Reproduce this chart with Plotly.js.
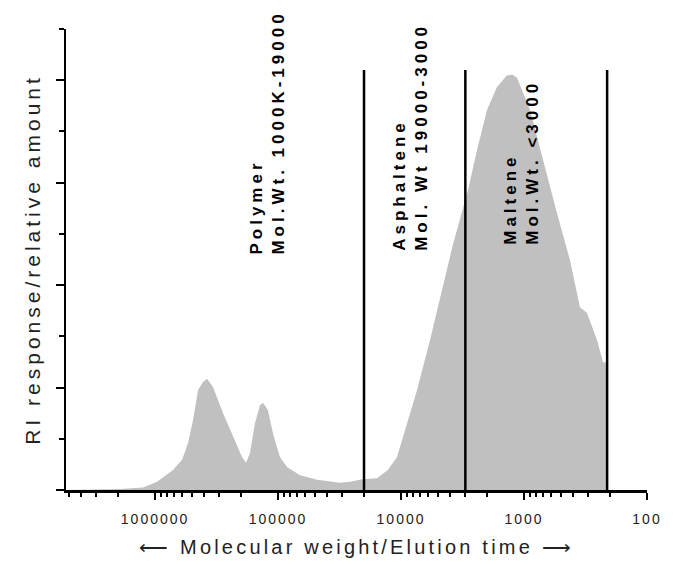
<!DOCTYPE html>
<html>
<head>
<meta charset="utf-8">
<script src="https://cdn.plot.ly/plotly-3.0.1.min.js"></script>
<style>
  body { margin: 0; background: #fff; }
  #chart { width: 675px; height: 566px; }
  .xtick text { letter-spacing: 2px; }
  .g-xtitle text { letter-spacing: 3.2px; }
  .g-ytitle text { letter-spacing: 4px; }
  .annotation-text { letter-spacing: 4px; }
</style>
</head>
<body>
<div id="chart"></div>
<script>
// Molecular weight (x, log scale, reversed) and RI response (y)
const molWeight = [5300000, 1930000, 1250000, 963000, 714000, 603000, 539000, 491000, 447000, 407000,
  378000, 338000, 280000, 232000, 196000, 182000, 169000, 154000, 140000, 132000,
  121000, 110000, 96400, 84500, 66200, 48200, 31300, 26000, 20700, 15700,
  12800, 10800, 8940, 7410, 5810, 4560, 3780, 3130, 2850, 2410,
  2000, 1660, 1380, 1250, 1140, 893, 701, 540, 423, 364,
  351, 308, 255, 228, 211];
const riResponse = [0.0, 0.02, 0.05, 0.16, 0.39, 0.59, 0.92, 1.37, 1.95, 2.11,
  2.17, 2.01, 1.50, 1.04, 0.64, 0.53, 0.72, 1.31, 1.66, 1.70,
  1.56, 1.11, 0.64, 0.45, 0.29, 0.20, 0.14, 0.16, 0.21, 0.23,
  0.39, 0.64, 1.31, 1.95, 2.93, 3.96, 4.80, 5.51, 5.86, 6.64,
  7.42, 7.87, 8.09, 8.11, 8.05, 7.42, 6.45, 5.41, 4.49, 3.77,
  3.57, 3.46, 2.93, 2.50, 2.48];

// Fraction boundaries (molecular weight)
const boundaries = [20000, 3000, 211];
const boundaryTop = 8.2;

// Fraction labels
const fractionNames = ['Polymer', 'Asphaltene', 'Maltene'];
const fractionRanges = ['Mol.Wt. 1000K-19000', 'Mol. Wt 19000-3000', 'Mol.Wt. <3000'];
const labelMW = [121600, 8300, 1047];
const labelY = [4.55, 4.63, 4.75];

const tickVals = [1000000, 100000, 10000, 1000, 100];
const tickText = ['1000000', '100000', '10000', '1000', '100'];

const traces = [{
  type: 'scatter',
  mode: 'lines',
  x: molWeight,
  y: riResponse,
  fill: 'tozeroy',
  fillcolor: '#c0c0c0',
  line: { width: 0, color: '#c0c0c0', shape: 'linear' },
  hoverinfo: 'skip',
  showlegend: false
}];

boundaries.forEach(b => {
  traces.push({
    type: 'scatter',
    mode: 'lines',
    x: [b, b],
    y: [0, boundaryTop],
    line: { color: '#000', width: 2.5 },
    hoverinfo: 'skip',
    showlegend: false
  });
});

const annotations = fractionNames.map((name, i) => ({
  x: Math.log10(labelMW[i]),
  y: labelY[i],
  xref: 'x', yref: 'y',
  text: '<b>' + name + '</b><br><b>' + fractionRanges[i] + '</b>',
  textangle: -90,
  align: 'left',
  xanchor: 'center',
  yanchor: 'bottom',
  showarrow: false,
  font: { family: 'Liberation Sans, Arial, sans-serif', size: 17, color: '#000' }
}));

const layout = {
  width: 675,
  height: 566,
  margin: { l: 66, r: 28, t: 29, b: 76 },
  paper_bgcolor: '#fff',
  plot_bgcolor: '#fff',
  showlegend: false,
  xaxis: {
    type: 'log',
    range: [Math.log10(5300000), 2],
    tickmode: 'array',
    tickvals: tickVals,
    ticktext: tickText,
    ticks: 'outside',
    ticklen: 7,
    tickwidth: 2,
    tickcolor: '#000',
    ticklabelstandoff: 8,
    tickfont: { family: 'Liberation Sans, Arial, sans-serif', size: 14, color: '#222' },
    showline: true,
    linewidth: 2.5,
    linecolor: '#000',
    showgrid: false,
    zeroline: false,
    minor: { tickmode: 'linear', dtick: 'D1', ticks: 'outside', ticklen: 4, tickwidth: 2, tickcolor: '#000', showgrid: false },
    title: {
      text: '⟵ Molecular weight/Elution time ⟶',
      font: { family: 'Liberation Sans, Arial, sans-serif', size: 20, color: '#222' },
      standoff: 14
    }
  },
  yaxis: {
    range: [0, 9],
    tickmode: 'linear',
    tick0: 0,
    dtick: 2,
    ticks: 'outside',
    ticklen: 8,
    tickwidth: 2,
    tickcolor: '#000',
    showticklabels: false,
    showline: true,
    linewidth: 2.5,
    linecolor: '#000',
    showgrid: false,
    zeroline: false,
    minor: { tickmode: 'linear', tick0: 0, dtick: 1, ticks: 'outside', ticklen: 5, tickwidth: 2, tickcolor: '#000', showgrid: false },
    title: {
      text: 'RI response/relative amount',
      font: { family: 'Liberation Sans, Arial, sans-serif', size: 21, color: '#222' },
      standoff: 9
    }
  },
  annotations: annotations
};

Plotly.newPlot('chart', traces, layout, { displayModeBar: false, staticPlot: true });
</script>
</body>
</html>
